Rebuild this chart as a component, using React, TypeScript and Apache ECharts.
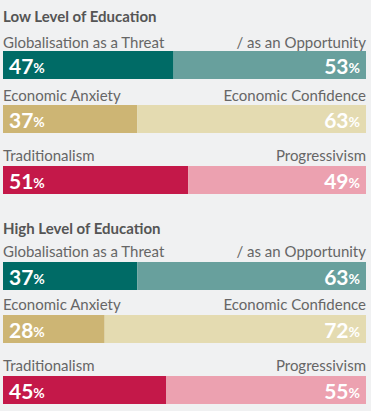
import React, { useEffect, useRef } from "react";
import * as echarts from "echarts";

const sectionTitles = ["Low Level of Education", "High Level of Education"];
const leftLabels = ["Globalisation as a Threat", "Economic Anxiety", "Traditionalism"];
const rightLabels = ["/ as an Opportunity", "Economic Confidence", "Progressivism"];
const lowLeft = [47, 37, 51];
const lowRight = [53, 63, 49];
const highLeft = [37, 28, 45];
const highRight = [63, 72, 55];

const darkColors = ["#006b66", "#cdb574", "#c41849"];
const lightColors = ["#68a09d", "#e4dbb1", "#eca1b0"];

const W = 371;
const H = 411;
const barTops = [51, 105, 166, 262, 315, 376];
const labelY = [42, 95, 155, 251, 304, 365];
const titleY = [16, 228];
const BAR_H = 28;
const LEFT = 3;
const RIGHT = 5;

export default function App() {
  const ref = useRef<HTMLDivElement>(null);
  useEffect(() => {
    document.body.style.margin = "0";
    const chart = echarts.init(ref.current!, undefined, { renderer: "svg" });
    const leftVals = [...lowLeft, ...highLeft];
    const rightVals = [...lowRight, ...highRight];
    const grids: any[] = [];
    const xAxes: any[] = [];
    const yAxes: any[] = [];
    const series: any[] = [];
    const graphics: any[] = [];
    const rich = {
      n: { fontFamily: "Lato", fontWeight: "bold", fontSize: 21, color: "#fff" },
      p: { fontFamily: "Lato", fontWeight: "bold", fontSize: 14, color: "#fff", padding: [4, 0, 0, 0] },
    };
    sectionTitles.forEach((t, s) => {
      graphics.push({
        type: "text",
        x: LEFT,
        y: titleY[s],
        style: {
          text: t,
          fontFamily: "Lato",
          fontWeight: "bold",
          fontSize: 15,
          fill: "#555",
          textAlign: "left",
          textVerticalAlign: "middle",
        },
      });
    });
    for (let i = 0; i < 6; i++) {
      const k = i % 3;
      grids.push({ left: LEFT, right: RIGHT, top: barTops[i], height: BAR_H });
      xAxes.push({ type: "value", min: 0, max: 100, show: false, gridIndex: i });
      yAxes.push({ type: "category", data: [""], show: false, gridIndex: i });
      series.push({
        type: "bar",
        xAxisIndex: i,
        yAxisIndex: i,
        stack: "s" + i,
        barWidth: "100%",
        data: [leftVals[i]],
        itemStyle: { color: darkColors[k] },
        label: {
          show: true,
          position: "insideLeft",
          distance: 6,
          formatter: (p: any) => `{n|${p.value}}{p|%}`,
          rich,
        },
      });
      series.push({
        type: "bar",
        xAxisIndex: i,
        yAxisIndex: i,
        stack: "s" + i,
        barWidth: "100%",
        data: [rightVals[i]],
        itemStyle: { color: lightColors[k] },
        label: {
          show: true,
          position: "insideRight",
          distance: 6,
          formatter: (p: any) => `{n|${p.value}}{p|%}`,
          rich,
        },
      });
      graphics.push({
        type: "text",
        x: LEFT,
        y: labelY[i],
        style: {
          text: leftLabels[k],
          fontFamily: "Lato",
          fontSize: 15,
          fill: "#666",
          textAlign: "left",
          textVerticalAlign: "middle",
        },
      });
      graphics.push({
        type: "text",
        x: W - RIGHT,
        y: labelY[i],
        style: {
          text: rightLabels[k],
          fontFamily: "Lato",
          fontSize: 15,
          fill: "#666",
          textAlign: "right",
          textVerticalAlign: "middle",
        },
      });
    }
    chart.setOption({
      animation: false,
      backgroundColor: "#f0f1f2",
      grid: grids,
      xAxis: xAxes,
      yAxis: yAxes,
      series,
      graphic: graphics,
    });
    return () => chart.dispose();
  }, []);
  return <div ref={ref} style={{ width: W, height: H, position: "absolute", left: 0, top: 0 }} />;
}
